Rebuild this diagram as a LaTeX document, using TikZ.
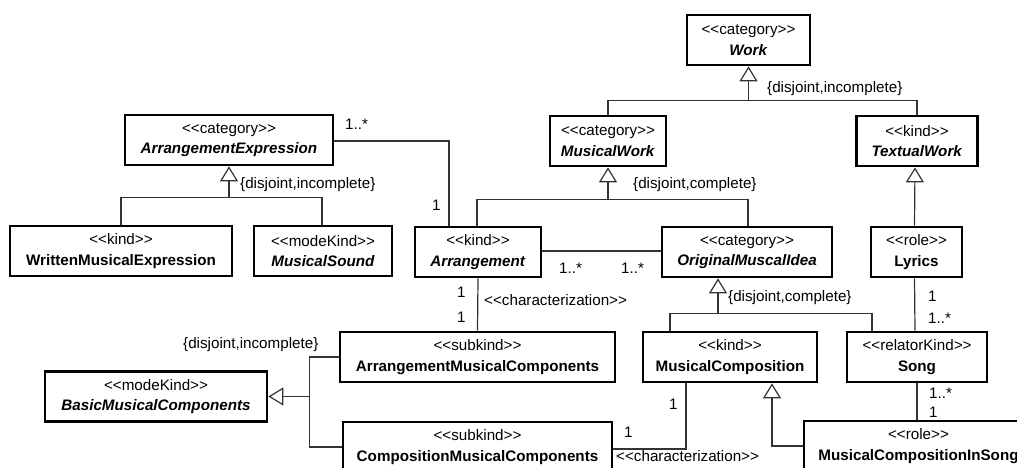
\documentclass[tikz,border=0pt]{standalone}
\usepackage{fontspec}
\setmainfont{Liberation Sans}
\usetikzlibrary{arrows.meta,calc}
\newcommand\stt[1]{<{}<#1>{}>}
\begin{document}
\begin{tikzpicture}[x=1pt,y=-1pt,
  every node/.style={font=\fontsize{15.2}{20.5}\selectfont},
  box/.style={draw=black,line width=2.7pt,fill=white,inner sep=0pt,align=center,minimum height=50pt},
  conn/.style={draw=black!80,line width=1.2pt},
  gen/.style={conn,-{Triangle[open,width=18pt,length=15pt,line width=1.2pt]}},
  lbl/.style={inner sep=0pt,anchor=west}]
\useasboundingbox (0,0) rectangle (1017,468);
\clip (0,0) rectangle (1017,468);
% nodes
\node[box,minimum width=123pt] (work) at (748.5,40) {\stt{category}\\\textbf{\textit{Work}}};
\node[box,minimum width=116pt] (musicalwork) at (608,141) {\stt{category}\\\textbf{\textit{MusicalWork}}};
\node[box,minimum width=121pt] (textualwork) at (917,141) {\stt{kind}\\\textbf{\textit{TextualWork}}};
\node[box,minimum width=208pt] (arrexpr) at (229,140) {\stt{category}\\\textbf{\textit{ArrangementExpression}}};
\node[box,minimum width=222pt] (written) at (121,251) {\stt{kind}\\\textbf{WrittenMusicalExpression}};
\node[box,minimum width=138pt] (sound) at (323,251) {\stt{modeKind}\\\textbf{\textit{MusicalSound}}};
\node[box,minimum width=126pt] (arrangement) at (478,252) {\stt{kind}\\\textbf{\textit{Arrangement}}};
\node[box,minimum width=170pt] (oimi) at (747,252) {\stt{category}\\\textbf{\textit{OriginalMuscalIdea}}};
\node[box,minimum width=91pt] (lyrics) at (916.5,252) {\stt{role}\\\textbf{Lyrics}};
\node[box,minimum width=275pt] (amc) at (477.5,357) {\stt{subkind}\\\textbf{ArrangementMusicalComponents}};
\node[box,minimum width=174pt] (mcomp) at (730,357) {\stt{kind}\\\textbf{MusicalComposition}};
\node[box,minimum width=140pt] (song) at (917,357) {\stt{relatorKind}\\\textbf{Song}};
\node[box,minimum width=222pt] (bmc) at (156,396.5) {\stt{modeKind}\\\textbf{\textit{BasicMusicalComponents}}};
\node[box,minimum width=269pt] (cmc) at (477.5,447) {\stt{subkind}\\\textbf{CompositionMusicalComponents}};
\node[box,minimum width=229pt] (mcis) at (918.5,446) {\stt{role}\\\textbf{MusicalCompositionInSong}};
% generalizations
\path (work.south) ++(0,34) coordinate (j1);
\draw[conn] (musicalwork.north) |- (j1) -| (textualwork.north);
\draw[gen] (j1) -- (work.south);
\path (musicalwork.south) ++(0,32) coordinate (j2);
\draw[conn] ([xshift=-1pt]arrangement.north) |- (j2) -| ([xshift=1pt]oimi.north);
\draw[gen] (j2) -- (musicalwork.south);
\path (arrexpr.south) ++(0,31) coordinate (j3);
\draw[conn] (written.north) |- (j3) -| ([xshift=-1pt]sound.north);
\draw[gen] (j3) -- (arrexpr.south);
\path ([xshift=-29pt]oimi.south) ++(0,35) coordinate (j4);
\draw[conn] ([xshift=-60pt]mcomp.north) |- (j4) -| ([xshift=-45pt]song.north);
\draw[gen] (j4) -- ([xshift=-29pt]oimi.south);
\draw[gen] ([xshift=-2pt]lyrics.north) -- ([xshift=-2pt]textualwork.south);
\draw[gen] (mcis.west) -| ([xshift=42pt]mcomp.south);
\path (bmc.east) ++(41,0) coordinate (j5);
\draw[conn] (amc.west) -| (j5) |- (cmc.west);
\draw[gen] (j5) -- (bmc.east);
% associations
\draw[conn] ([yshift=-1pt]arrexpr.east) -| ([xshift=-29pt]arrangement.north);
\draw[conn] ([yshift=1pt]arrangement.east) -- ([yshift=1pt]oimi.west);
\draw[conn] (arrangement.south) -- (amc.north);
\draw[conn] ([xshift=-2pt]lyrics.south) -- ([xshift=-2pt]song.north);
\draw[conn] (song.south) -- (song.south |- mcis.north);
\draw[conn] ([xshift=-44pt]mcomp.south) |- ([yshift=-2pt]cmc.east);
% labels
\node[lbl] (l1) at (767,89) {\{disjoint,incomplete\}};
\node[lbl] (l2) at (633,185) {\{disjoint,complete\}};
\node[lbl] (l3) at (240,185) {\{disjoint,incomplete\}};
\node[lbl] (l4) at (728,298) {\{disjoint,complete\}};
\node[lbl] (l5) at (183,345) {\{disjoint,incomplete\}};
\node[lbl] (m1) at (345,124) {1..*};
\node[lbl] (m2) at (432,205) {1};
\node[lbl] (m3) at (559,268) {1..*};
\node[lbl] (m4) at (621,268) {1..*};
\node[lbl] (m5) at (457,292) {1};
\node[lbl] (m6) at (457,317) {1};
\node[lbl] (c1) at (484,300) {\stt{characterization}};
\node[lbl] (m7) at (928,296) {1};
\node[lbl] (m8) at (928,318) {1..*};
\node[lbl] (m9) at (929,393) {1..*};
\node[lbl] (m10) at (929,412) {1};
\node[lbl] (m11) at (669,404) {1};
\node[lbl] (m12) at (624,432) {1};
\node[lbl] (c2) at (616,456) {\stt{characterization}};
\end{tikzpicture}
\end{document}
